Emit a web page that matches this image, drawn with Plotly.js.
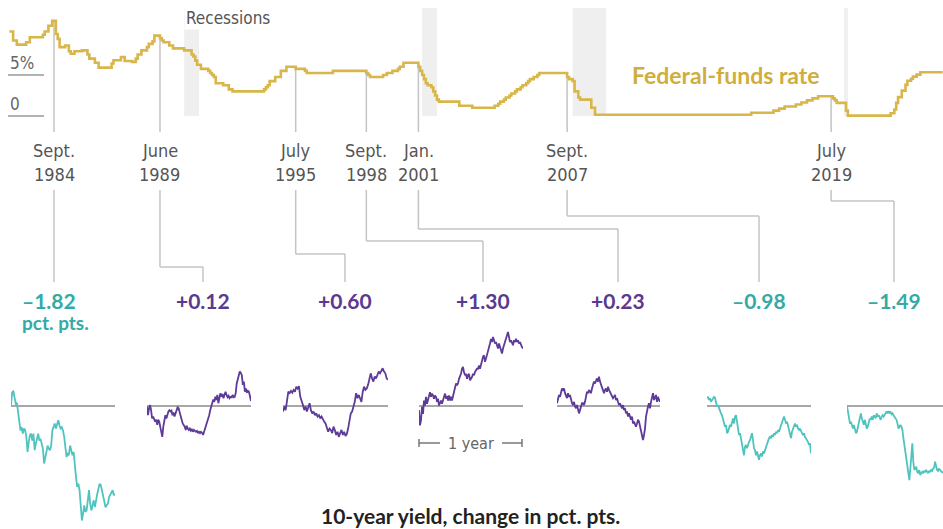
<!DOCTYPE html>
<html><head><meta charset="utf-8">
<script src="https://cdn.plot.ly/plotly-3.0.1.min.js"></script>
<style>html,body{margin:0;padding:0;background:#fff}#chart{width:943px;height:529px}</style>
</head><body><div id="chart"></div>
<script>
// ---------------- DATA ----------------
const ffDates=['1982-09','1982-11','1983-01','1983-06','1983-08','1984-03','1984-04','1984-06','1984-08','1984-10','1984-11','1984-12','1985-03','1985-05','1985-06','1985-08','1985-12','1986-03','1986-04','1986-07','1986-09','1987-04','1987-05','1987-09','1987-11','1988-03','1988-05','1988-06','1988-08','1988-11','1988-12','1989-02','1989-03','1989-06','1989-07','1989-08','1989-11','1990-01','1990-07','1990-11','1990-12','1991-01','1991-02','1991-04','1991-08','1991-09','1991-10','1991-11','1991-12','1992-04','1992-07','1992-09','1994-02','1994-03','1994-04','1994-05','1994-08','1994-11','1995-02','1995-07','1995-12','1996-01','1997-03','1998-09','1998-10','1998-11','1999-06','1999-08','1999-11','2000-02','2000-03','2000-05','2001-01','2001-02','2001-03','2001-04','2001-05','2001-06','2001-08','2001-09','2001-10','2001-11','2001-12','2002-11','2003-06','2004-06','2004-08','2004-09','2004-11','2004-12','2005-02','2005-03','2005-05','2005-06','2005-08','2005-09','2005-11','2005-12','2006-01','2006-03','2006-05','2006-06','2007-09','2007-10','2007-12','2008-01','2008-03','2008-04','2008-10','2008-12','2015-12','2016-12','2017-03','2017-06','2017-12','2018-03','2018-06','2018-09','2018-12','2019-08','2019-09','2019-10','2020-03','2020-04','2022-03','2022-05','2022-06','2022-07','2022-09','2022-11','2022-12','2023-02','2023-03','2023-05','2023-07','2024-07'];
const ffRates=[10.3,9.2,8.7,9.0,9.6,9.9,10.3,11.0,11.6,10.0,9.4,8.4,8.6,7.9,7.6,7.9,8.0,7.5,7.0,6.5,5.9,6.4,6.8,7.2,6.7,6.6,7.0,7.5,8.0,8.4,8.8,9.1,9.8,9.5,9.2,9.0,8.6,8.25,8.0,7.5,7.25,6.75,6.25,5.75,5.5,5.25,5.0,4.75,4.0,3.75,3.25,3.0,3.25,3.5,3.75,4.25,4.75,5.5,6.0,5.75,5.5,5.25,5.5,5.25,5.0,4.75,5.0,5.25,5.5,5.75,6.0,6.5,6.0,5.5,5.0,4.5,4.0,3.75,3.5,3.0,2.5,2.0,1.75,1.25,1.0,1.25,1.5,1.75,2.0,2.25,2.5,2.75,3.0,3.25,3.5,3.75,4.0,4.25,4.5,4.75,5.0,5.25,4.75,4.5,4.25,3.0,2.25,2.0,1.0,0.15,0.4,0.65,0.9,1.15,1.4,1.65,1.9,2.15,2.4,2.15,1.9,1.6,0.65,0.05,0.33,0.8,1.6,2.3,3.1,3.8,4.3,4.55,4.8,5.05,5.33,5.33];

const recessionStarts=['1990-07','2001-03','2007-12','2020-02'];
const recessionEnds=['1991-03','2001-11','2009-06','2020-04'];

const eventDates=['1984-09','1989-06','1995-07','1998-09','2001-01','2007-09','2019-07'];
const eventMonths=['Sept.','June','July','Sept.','Jan.','Sept.','July'];
const eventYears=['1984','1989','1995','1998','2001','2007','2019'];
const yieldChanges=[-1.82,0.12,0.60,1.30,0.23,-0.98,-1.49];
const yieldLabels=['–1.82','+0.12','+0.60','+1.30','+0.23','–0.98','–1.49'];

// 10-year yield change over the following year (pct. pts.)
const yield1984=[0.01,0.30,0.32,0.20,0.05,0.07,-0.13,-0.38,-0.53,-0.46,-0.60,-0.49,-0.53,-0.67,-1.00,-0.78,-0.64,-0.60,-0.75,-0.60,-0.96,-0.82,-0.67,-0.60,-0.75,-0.71,-0.82,-0.93,-1.25,-1.11,-0.96,-0.86,-0.93,-0.96,-0.86,-0.53,-0.46,-0.38,-0.49,-0.38,-0.31,-0.42,-0.49,-0.46,-0.53,-0.67,-0.86,-1.11,-1.04,-1.07,-0.86,-0.96,-1.07,-1.00,-1.33,-1.54,-1.76,-1.69,-1.83,-2.20,-2.49,-2.34,-2.16,-2.30,-2.27,-2.05,-1.83,-2.12,-2.27,-2.16,-2.05,-2.20,-2.01,-1.91,-1.80,-1.69,-1.72,-1.83,-1.98,-2.05,-2.20,-2.16,-2.12,-1.98,-1.94,-1.87,-1.83,-1.94,-1.91];
const yield1989=[-0.01,-0.20,-0.05,0.02,-0.09,-0.27,-0.23,-0.30,-0.34,-0.30,-0.41,-0.30,-0.34,-0.45,-0.56,-0.67,-0.45,-0.34,-0.20,-0.27,-0.16,-0.12,-0.09,-0.12,-0.10,-0.20,-0.14,-0.23,-0.16,-0.09,-0.03,-0.05,-0.16,-0.27,-0.30,-0.38,-0.41,-0.45,-0.52,-0.43,-0.49,-0.52,-0.49,-0.54,-0.51,-0.56,-0.52,-0.54,-0.56,-0.54,-0.58,-0.56,-0.59,-0.56,-0.58,-0.63,-0.56,-0.49,-0.45,-0.38,-0.27,-0.20,-0.09,-0.01,0.06,0.14,0.09,0.20,0.13,0.24,0.06,0.19,0.28,0.20,0.26,0.17,0.24,0.31,0.24,0.19,0.22,0.17,0.20,0.19,0.24,0.19,0.20,0.28,0.49,0.60,0.70,0.75,0.72,0.67,0.46,0.53,0.31,0.38,0.29,0.33,0.31,0.17,0.11];
const yield1995=[-0.12,-0.01,-0.09,0.09,0.31,0.28,0.33,0.29,0.35,0.31,0.42,0.38,0.43,0.20,0.13,0.02,-0.09,-0.01,-0.12,-0.05,0.06,-0.09,-0.16,-0.12,-0.20,-0.16,-0.23,-0.20,-0.27,-0.23,-0.30,-0.34,-0.38,-0.45,-0.56,-0.49,-0.52,-0.59,-0.45,-0.52,-0.63,-0.56,-0.67,-0.59,-0.52,-0.63,-0.56,-0.65,-0.61,-0.49,-0.27,-0.16,-0.12,-0.01,0.09,0.28,0.17,0.24,0.17,0.09,0.31,0.42,0.35,0.38,0.46,0.57,0.71,0.60,0.53,0.64,0.60,0.67,0.75,0.71,0.78,0.82,0.75,0.71,0.60,0.57];
const yield1998=[-0.09,-0.42,-0.31,-0.02,-0.17,0.12,0.01,0.20,0.05,0.12,0.23,0.30,0.20,0.27,0.23,0.16,0.23,0.20,0.09,0.16,0.01,0.05,0.12,0.05,0.12,0.23,0.27,0.16,0.22,0.12,0.23,0.12,0.20,0.12,0.23,0.30,0.41,0.49,0.45,0.49,0.59,0.63,0.70,0.81,0.85,0.74,0.67,0.70,0.59,0.67,0.70,0.56,0.59,0.63,0.70,0.67,0.74,0.78,0.81,0.81,0.88,0.81,0.92,0.99,1.07,1.10,0.96,1.03,1.10,1.17,1.28,1.36,1.46,1.39,1.50,1.43,1.36,1.39,1.28,1.25,1.36,1.28,1.21,1.14,1.25,1.32,1.36,1.43,1.54,1.61,1.50,1.39,1.43,1.36,1.32,1.43,1.39,1.46,1.39,1.43,1.36,1.39,1.32,1.28,1.25];
const yield2001=[0.06,0.13,0.24,0.20,0.31,0.38,0.35,0.38,0.28,0.24,0.17,0.28,0.20,0.24,0.13,0.06,0.02,0.09,-0.01,-0.05,0.02,-0.12,-0.16,-0.09,0.02,0.06,0.06,0.02,0.09,0.24,0.31,0.28,0.35,0.31,0.28,0.38,0.46,0.53,0.49,0.57,0.60,0.53,0.64,0.53,0.46,0.38,0.35,0.28,0.35,0.38,0.31,0.42,0.35,0.31,0.28,0.24,0.17,0.20,0.24,0.13,0.17,0.09,0.02,0.06,-0.01,-0.05,0.02,-0.09,-0.05,-0.16,-0.12,-0.23,-0.16,-0.27,-0.30,-0.23,-0.38,-0.34,-0.41,-0.45,-0.38,-0.30,-0.34,-0.45,-0.56,-0.67,-0.74,-0.63,-0.49,-0.23,-0.09,-0.01,0.06,-0.05,0.09,0.20,0.28,0.13,0.17,0.24,0.09,0.20,0.13,0.09];
const yield2007=[0.17,0.20,0.13,0.17,0.09,0.13,0.15,0.20,0.18,0.06,-0.01,0.02,-0.05,-0.12,-0.16,-0.20,-0.27,-0.34,-0.45,-0.41,-0.59,-0.56,-0.49,-0.41,-0.45,-0.34,-0.27,-0.38,-0.23,-0.20,-0.38,-0.49,-0.63,-0.59,-0.70,-0.81,-0.92,-1.07,-0.88,-0.85,-0.92,-0.81,-0.78,-0.74,-0.63,-0.59,-0.74,-0.92,-0.96,-1.07,-0.99,-1.10,-1.17,-1.07,-1.03,-1.10,-0.99,-1.03,-0.96,-0.92,-0.85,-0.74,-0.70,-0.67,-0.70,-0.63,-0.67,-0.59,-0.63,-0.56,-0.59,-0.52,-0.56,-0.49,-0.41,-0.34,-0.27,-0.23,-0.30,-0.38,-0.34,-0.45,-0.52,-0.63,-0.70,-0.56,-0.49,-0.41,-0.38,-0.45,-0.41,-0.49,-0.52,-0.49,-0.56,-0.59,-0.63,-0.59,-0.67,-0.70,-0.74,-0.78,-0.85,-0.81,-1.03];
const yield2019=[0.00,-0.12,-0.27,-0.38,-0.34,-0.45,-0.49,-0.41,-0.52,-0.59,-0.56,-0.45,-0.34,-0.23,-0.16,-0.27,-0.34,-0.41,-0.30,-0.38,-0.49,-0.45,-0.34,-0.27,-0.30,-0.23,-0.30,-0.20,-0.23,-0.27,-0.16,-0.23,-0.20,-0.27,-0.30,-0.23,-0.20,-0.23,-0.18,-0.16,-0.12,-0.16,-0.11,-0.16,-0.12,-0.18,-0.16,-0.20,-0.23,-0.27,-0.30,-0.38,-0.49,-0.45,-0.41,-0.45,-0.52,-0.70,-0.85,-1.07,-1.21,-1.36,-1.50,-1.61,-1.36,-1.14,-0.81,-1.21,-1.39,-1.36,-1.32,-1.43,-1.46,-1.39,-1.50,-1.46,-1.43,-1.46,-1.41,-1.44,-1.39,-1.43,-1.46,-1.41,-1.44,-1.39,-1.41,-1.36,-1.34,-1.21,-1.32,-1.39,-1.41,-1.36,-1.39,-1.43,-1.44,-1.44];
const yieldSeries=[yield1984,yield1989,yield1995,yield1998,yield2001,yield2007,yield2019];

// ---------------- LAYOUT CONSTANTS ----------------
const W=943,H=529;
const GOLD='#d8b64a',GOLDTXT='#cfae3c',TEAL='#4fc4bf',TEALTXT='#33aaa6',PURPLE='#5e3b98',PURPLETXT='#5a3a8e';
const COND="'Liberation Sans Narrow','DejaVu Sans Condensed','Arial Narrow',sans-serif";
const BOLD="Lato,'Open Sans',sans-serif";
const px=p=>p/W, py=p=>1-p/H;
const toYear=s=>{const [y,m]=s.split('-').map(Number);return y+(m-1)/12;};
const PXY=22.31, X0=toYear('1984-09')-54/PXY, X1=X0+W/PXY;
const pxToYear=p=>X0+p/W*(X1-X0);
const PPP=8.2, TOPBOT=132, Y0=-(TOPBOT-116)/PPP, Y1=116/PPP;
const panelPx=[[11,115],[147,251],[283,388],[419,523],[557,660],[707,811],[847,943]];
const PY_TOP=325, PY_BOT=529, BASE=406, PPPT=46;
const connEndPx=[null,203,345,483,618,759,894];
const elbowPy=[null,267,254,241,229,216,201];

const ffX=ffDates.map(toYear);
const rateBefore=d=>{const t=toYear(d);let r=ffRates[0];for(let i=0;i<ffX.length;i++){if(ffX[i]<t)r=ffRates[i];}return r;};

const traces=[];
traces.push({x:ffX,y:ffRates,type:'scatter',mode:'lines',line:{shape:'hv',color:GOLD,width:2.6},xaxis:'x',yaxis:'y',hoverinfo:'skip'});

const layout={width:W,height:H,margin:{l:0,r:0,t:0,b:0},paper_bgcolor:'#fff',plot_bgcolor:'rgba(0,0,0,0)',showlegend:false,
  xaxis:{domain:[0,1],range:[X0,X1],visible:false,fixedrange:true},
  yaxis:{domain:[py(TOPBOT),1],range:[Y0,Y1],visible:false,fixedrange:true},
  yaxis2:{domain:[py(PY_BOT),py(PY_TOP)],range:[-(PY_BOT-BASE)/PPPT,(BASE-PY_TOP)/PPPT],visible:false,anchor:'x2',fixedrange:true},
  shapes:[],annotations:[]};

yieldSeries.forEach((s,i)=>{
  const ax='x'+(i+2);
  const col=yieldChanges[i]<0?TEAL:PURPLE;
  traces.push({x:s.map((_,k)=>k),y:s,type:'scatter',mode:'lines',line:{color:col,width:1.8},xaxis:ax,yaxis:'y2',hoverinfo:'skip'});
  layout['xaxis'+(i+2)]={domain:[px(panelPx[i][0]),px(panelPx[i][1])],range:[0,s.length-1],visible:false,anchor:'y2',fixedrange:true};
  layout.shapes.push({type:'line',xref:'paper',yref:'y2',x0:px(panelPx[i][0]),x1:px(panelPx[i][1]),y0:0,y1:0,line:{color:'#8a8a8a',width:1.5},layer:'below'});
});

recessionStarts.forEach((s,i)=>{
  layout.shapes.push({type:'rect',xref:'x',yref:'y',x0:toYear(s),x1:toYear(recessionEnds[i]),y0:0,y1:(116-8)/PPP,fillcolor:'#efefef',line:{width:0},layer:'below'});
});
[0,5].forEach(v=>layout.shapes.push({type:'line',xref:'paper',yref:'y',x0:px(8),x1:px(44),y0:v,y1:v,line:{color:'#9a9a9a',width:1.5},layer:'below'}));

const CONN='#c4c4c4';
eventDates.forEach((d,i)=>{
  const ex=toYear(d);
  layout.shapes.push({type:'line',xref:'x',yref:'y',x0:ex,x1:ex,y0:rateBefore(d),y1:Y0,line:{color:CONN,width:1.5},layer:'below'});
  if(connEndPx[i]===null){
    layout.shapes.push({type:'line',xref:'x',yref:'paper',x0:ex,x1:ex,y0:py(190),y1:py(282),line:{color:CONN,width:1.5},layer:'below'});
  } else {
    const lx=pxToYear(connEndPx[i]);
    layout.shapes.push({type:'line',xref:'x',yref:'paper',x0:ex,x1:ex,y0:py(190),y1:py(elbowPy[i]),line:{color:CONN,width:1.5},layer:'below'});
    layout.shapes.push({type:'line',xref:'x',yref:'paper',x0:ex,x1:lx,y0:py(elbowPy[i]),y1:py(elbowPy[i]),line:{color:CONN,width:1.5},layer:'below'});
    layout.shapes.push({type:'line',xref:'x',yref:'paper',x0:lx,x1:lx,y0:py(elbowPy[i]),y1:py(282),line:{color:CONN,width:1.5},layer:'below'});
  }
  layout.annotations.push({xref:'x',yref:'paper',x:ex,y:py(150),text:eventMonths[i],showarrow:false,xanchor:'center',yanchor:'middle',font:{family:COND,size:18,color:'#555'}});
  layout.annotations.push({xref:'x',yref:'paper',x:ex,y:py(174),text:eventYears[i],showarrow:false,xanchor:'center',yanchor:'middle',font:{family:COND,size:18,color:'#555'}});
  const neg=yieldChanges[i]<0;
  if(i===0){
    layout.annotations.push({xref:'paper',yref:'paper',x:px(20),y:py(300),text:yieldLabels[i],showarrow:false,xanchor:'left',yanchor:'middle',font:{family:BOLD,size:21,weight:'bold',color:TEALTXT}});
  } else {
    layout.annotations.push({xref:'paper',yref:'paper',x:px(connEndPx[i]),y:py(300),text:yieldLabels[i],showarrow:false,xanchor:'center',yanchor:'middle',font:{family:BOLD,size:21,weight:'bold',color:neg?TEALTXT:PURPLETXT}});
  }
});
layout.annotations.push({xref:'paper',yref:'paper',x:px(20),y:py(323),text:'pct. pts.',showarrow:false,xanchor:'left',yanchor:'middle',font:{family:BOLD,size:19,weight:'bold',color:TEALTXT}});
layout.annotations.push({xref:'paper',yref:'paper',x:px(184),y:py(18),text:'Recessions',showarrow:false,xanchor:'left',yanchor:'middle',bgcolor:'#fff',borderpad:1,font:{family:COND,size:17,color:'#555'}});
layout.annotations.push({xref:'paper',yref:'paper',x:px(8),y:py(63),text:'5%',showarrow:false,xanchor:'left',yanchor:'middle',font:{family:COND,size:17,color:'#666'}});
layout.annotations.push({xref:'paper',yref:'paper',x:px(8),y:py(104),text:'0',showarrow:false,xanchor:'left',yanchor:'middle',font:{family:COND,size:17,color:'#666'}});
layout.annotations.push({xref:'paper',yref:'paper',x:px(726),y:py(75),text:'Federal-funds rate',showarrow:false,xanchor:'center',yanchor:'middle',font:{family:BOLD,size:23,weight:'bold',color:GOLDTXT}});
layout.annotations.push({xref:'paper',yref:'paper',x:px(470),y:py(515),text:'10-year yield, change in pct. pts.',showarrow:false,xanchor:'center',yanchor:'middle',font:{family:BOLD,size:21,weight:'bold',color:'#222'}});
layout.annotations.push({xref:'paper',yref:'paper',x:px(471),y:py(443),text:'1 year',showarrow:false,xanchor:'center',yanchor:'middle',font:{family:COND,size:16,color:'#666'}});
const SB='#777';
[[419,440],[502,522]].forEach(([a,b])=>layout.shapes.push({type:'line',xref:'paper',yref:'paper',x0:px(a),x1:px(b),y0:py(443),y1:py(443),line:{color:SB,width:1.5}}));
[419,522].forEach(a=>layout.shapes.push({type:'line',xref:'paper',yref:'paper',x0:px(a),x1:px(a),y0:py(439),y1:py(447),line:{color:SB,width:1.5}}));

Plotly.newPlot('chart',traces,layout,{staticPlot:true,displayModeBar:false});
</script></body></html>
